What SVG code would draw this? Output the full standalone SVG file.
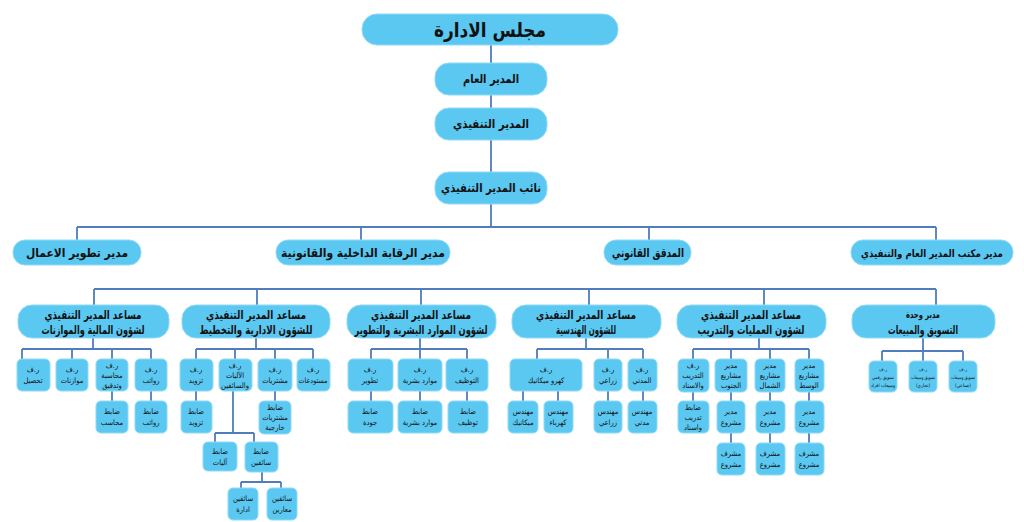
<svg xmlns="http://www.w3.org/2000/svg" width="1024" height="522" viewBox="0 0 1024 522">
<style>
.b{fill:#5bc8f2;stroke:#8fdaf7;stroke-width:1}
.c{fill:none;stroke:#4f7dbd;stroke-width:1.8}
text{font-family:"DejaVu Sans Condensed","DejaVu Sans",sans-serif;fill:#111;text-anchor:middle;font-weight:bold}
.t0{font-size:20px}
.t1{font-size:12px}
.t2{font-size:12px}
.t3{font-size:10px}
.s{font-size:7.5px;font-weight:normal}
.xs{font-size:4.8px;font-weight:normal}
</style>
<rect width="1024" height="522" fill="#fff"/>
<g id="connectors" class="c">
<path d="M491 45V63M491 95V108M491 140V172M491 204V227"/>
<path d="M77 227H936M77 227V240M361 227V240M649 227V240M936 227V240"/>
<path d="M94 289H936M94 289V305M257 289V305M421 289V305M589 289V305M764 289V305M936 289V305"/>
<path d="M93 338V349M22 349H151M22 349V359M72 349V359M112 349V359M151 349V359M112 391V401M151 391V401"/>
<path d="M256 338V349M196 349H313M196 349V359M235 349V359M275 349V359M313 349V359M196 391V401M275 391V401"/>
<path d="M233 391V433M215 433H254M215 433V442M254 433V442M262 472V482M241 482H281M241 482V488M281 482V488"/>
<path d="M420 338V349M371 349H467M371 349V359M420 349V359M467 349V359M371 391V401M420 391V401M467 391V401"/>
<path d="M586 338V349M537 349H643M537 349V359M608 349V359M643 349V359M523 391V401M558 391V401M608 391V401M643 391V401"/>
<path d="M759 338V349M693 349H809M693 349V359M731 349V359M770 349V359M809 349V359M693 392V401M731 392V401M770 392V401M809 392V401M731 433V443M770 433V443M809 433V443"/>
<path d="M923 338V351M882 351H963M882 351V361M923 351V361M963 351V361"/>
</g>
<g id="board"><rect class="b" x="362" y="14" width="256" height="31" rx="15"/><text class="t0" x="490" y="37" textLength="112" lengthAdjust="spacingAndGlyphs">مجلس الادارة</text></g>
<g id="gm"><rect class="b" x="435" y="63" width="112" height="32" rx="14"/><text class="t1" x="491" y="83" textLength="56" lengthAdjust="spacingAndGlyphs">المدير العام</text></g>
<g id="ceo"><rect class="b" x="435" y="108" width="112" height="32" rx="14"/><text class="t1" x="491" y="128" textLength="76" lengthAdjust="spacingAndGlyphs">المدير التنفيذي</text></g>
<g id="deputy"><rect class="b" x="435" y="172" width="112" height="32" rx="14"/><text class="t1" x="491" y="192" textLength="100" lengthAdjust="spacingAndGlyphs">نائب المدير التنفيذي</text></g>

<g id="bizdev"><rect class="b" x="13" y="240" width="128" height="25" rx="12"/><text class="t1" x="77" y="257" font-weight="normal" textLength="102" lengthAdjust="spacingAndGlyphs">مدير تطوير الاعمال</text></g>
<g id="control"><rect class="b" x="276" y="240" width="174" height="25" rx="12"/><text class="t1" x="363" y="257" textLength="164" lengthAdjust="spacingAndGlyphs">مدير الرقابة الداخلية والقانونية</text></g>
<g id="auditor"><rect class="b" x="604" y="240" width="87" height="25" rx="12"/><text class="t1" x="648" y="257" textLength="72" lengthAdjust="spacingAndGlyphs">المدقق القانوني</text></g>
<g id="office"><rect class="b" x="851" y="240" width="162" height="25" rx="12"/><text x="932" y="257" font-size="10.5" textLength="142" lengthAdjust="spacingAndGlyphs">مدير مكتب المدير العام والتنفيذي</text></g>

<g id="finance"><rect class="b" x="18" y="305" width="151" height="33" rx="14"/><text class="t2" x="93" y="319" textLength="97" lengthAdjust="spacingAndGlyphs">مساعد المدير التنفيذي</text><text class="t2" x="93" y="334" textLength="103" lengthAdjust="spacingAndGlyphs">لشؤون المالية والموازنات</text></g>
<g id="admin"><rect class="b" x="182" y="305" width="148" height="33" rx="14"/><text class="t2" x="256" y="319" textLength="100" lengthAdjust="spacingAndGlyphs">مساعد المدير التنفيذي</text><text class="t2" x="256" y="334" textLength="113" lengthAdjust="spacingAndGlyphs">للشؤون الادارية والتخطيط</text></g>
<g id="hr"><rect class="b" x="347" y="305" width="149" height="33" rx="14"/><text class="t2" x="421" y="319" textLength="100" lengthAdjust="spacingAndGlyphs">مساعد المدير التنفيذي</text><text class="t2" x="421" y="334" textLength="133" lengthAdjust="spacingAndGlyphs">لشؤون الموارد البشرية والتطوير</text></g>
<g id="eng"><rect class="b" x="512" y="305" width="149" height="33" rx="14"/><text class="t2" x="586" y="319" textLength="100" lengthAdjust="spacingAndGlyphs">مساعد المدير التنفيذي</text><text class="t2" x="586" y="334" textLength="60" lengthAdjust="spacingAndGlyphs">للشؤون الهندسية</text></g>
<g id="ops"><rect class="b" x="677" y="305" width="149" height="33" rx="14"/><text class="t2" x="751" y="319" textLength="100" lengthAdjust="spacingAndGlyphs">مساعد المدير التنفيذي</text><text class="t2" x="751" y="334" textLength="107" lengthAdjust="spacingAndGlyphs">لشؤون العمليات والتدريب</text></g>
<g id="marketing"><rect class="b" x="852" y="305" width="143" height="33" rx="14"/><text class="t3" x="923" y="318" textLength="34" lengthAdjust="spacingAndGlyphs">مدير وحدة</text><text class="t2" x="923" y="334" textLength="70" lengthAdjust="spacingAndGlyphs">التسويق والمبيعات</text></g>

<!-- finance subs -->
<g id="f1"><rect class="b" x="17" y="359" width="33" height="32" rx="5"/><text class="s" x="33" y="372">ر.ف</text><text class="s" x="33" y="383">تحصيل</text></g>
<g id="f2"><rect class="b" x="56" y="359" width="32" height="32" rx="5"/><text class="s" x="72" y="372">ر.ف</text><text class="s" x="72" y="383">موازنات</text></g>
<g id="f3"><rect class="b" x="96" y="359" width="32" height="32" rx="5"/><text class="s" x="112" y="368">ر.ف</text><text class="s" x="112" y="378">محاسبة</text><text class="s" x="112" y="388">وتدقيق</text></g>
<g id="f4"><rect class="b" x="135" y="359" width="32" height="32" rx="5"/><text class="s" x="151" y="372">ر.ف</text><text class="s" x="151" y="383">رواتب</text></g>
<g id="f5"><rect class="b" x="96" y="401" width="32" height="32" rx="5"/><text class="s" x="112" y="414">ضابط</text><text class="s" x="112" y="425">محاسب</text></g>
<g id="f6"><rect class="b" x="135" y="401" width="32" height="32" rx="5"/><text class="s" x="151" y="414">ضابط</text><text class="s" x="151" y="425">رواتب</text></g>

<!-- admin subs -->
<g id="a1"><rect class="b" x="180" y="359" width="33" height="32" rx="5"/><text class="s" x="196" y="372">ر.ف</text><text class="s" x="196" y="383">تزويد</text></g>
<g id="a2"><rect class="b" x="219" y="359" width="33" height="32" rx="5"/><text class="s" x="235" y="368">ر.ف</text><text class="s" x="235" y="378">الآليات</text><text class="s" x="235" y="388" textLength="28" lengthAdjust="spacingAndGlyphs">والسائقين</text></g>
<g id="a3"><rect class="b" x="258" y="359" width="34" height="32" rx="5"/><text class="s" x="275" y="372">ر.ف</text><text class="s" x="275" y="383">مشتريات</text></g>
<g id="a4"><rect class="b" x="297" y="359" width="33" height="32" rx="5"/><text class="s" x="313" y="372">ر.ف</text><text class="s" x="313" y="383" textLength="29" lengthAdjust="spacingAndGlyphs">مستودعات</text></g>
<g id="a5"><rect class="b" x="181" y="401" width="31" height="32" rx="5"/><text class="s" x="196" y="414">ضابط</text><text class="s" x="196" y="425">تزويد</text></g>
<g id="a6"><rect class="b" x="259" y="401" width="32" height="33" rx="5"/><text class="s" x="275" y="410">ضابط</text><text class="s" x="275" y="420">مشتريات</text><text class="s" x="275" y="430">خارجية</text></g>
<g id="a7"><rect class="b" x="203" y="442" width="34" height="29" rx="5"/><text class="s" x="220" y="454">ضابط</text><text class="s" x="220" y="465">آليات</text></g>
<g id="a8"><rect class="b" x="245" y="442" width="33" height="30" rx="5"/><text class="s" x="261" y="454">ضابط</text><text class="s" x="261" y="465">سائقين</text></g>
<g id="a9"><rect class="b" x="228" y="488" width="30" height="32" rx="5"/><text class="s" x="243" y="501">سائقين</text><text class="s" x="243" y="512">ادارة</text></g>
<g id="a10"><rect class="b" x="267" y="488" width="30" height="32" rx="5"/><text class="s" x="282" y="501">سائقين</text><text class="s" x="282" y="512">معارين</text></g>

<!-- hr subs -->
<g id="h1"><rect class="b" x="348" y="359" width="45" height="32" rx="5"/><text class="s" x="370" y="372">ر.ف</text><text class="s" x="370" y="383">تطوير</text></g>
<g id="h2"><rect class="b" x="398" y="359" width="44" height="32" rx="5"/><text class="s" x="420" y="372">ر.ف</text><text class="s" x="420" y="383">موارد بشرية</text></g>
<g id="h3"><rect class="b" x="446" y="359" width="42" height="32" rx="5"/><text class="s" x="467" y="372">ر.ف</text><text class="s" x="467" y="383">التوظيف</text></g>
<g id="h4"><rect class="b" x="348" y="401" width="45" height="32" rx="5"/><text class="s" x="370" y="414">ضابط</text><text class="s" x="370" y="425">جودة</text></g>
<g id="h5"><rect class="b" x="398" y="401" width="44" height="32" rx="5"/><text class="s" x="420" y="414">ضابط</text><text class="s" x="420" y="425">موارد بشرية</text></g>
<g id="h6"><rect class="b" x="448" y="401" width="40" height="32" rx="5"/><text class="s" x="468" y="414">ضابط</text><text class="s" x="468" y="425">توظيف</text></g>

<!-- eng subs -->
<g id="e1"><rect class="b" x="510" y="359" width="72" height="32" rx="5"/><text class="s" x="546" y="372">ر.ف</text><text class="s" x="546" y="383">كهرو ميكانيك</text></g>
<g id="e2"><rect class="b" x="594" y="359" width="28" height="32" rx="5"/><text class="s" x="608" y="372">ر.ف</text><text class="s" x="608" y="383">زراعي</text></g>
<g id="e3"><rect class="b" x="628" y="359" width="29" height="32" rx="5"/><text class="s" x="642" y="372">ر.ف</text><text class="s" x="642" y="383">المدني</text></g>
<g id="e4"><rect class="b" x="508" y="401" width="30" height="32" rx="5"/><text class="s" x="523" y="414">مهندس</text><text class="s" x="523" y="425">ميكانيك</text></g>
<g id="e5"><rect class="b" x="544" y="401" width="29" height="32" rx="5"/><text class="s" x="558" y="414">مهندس</text><text class="s" x="558" y="425">كهرباء</text></g>
<g id="e6"><rect class="b" x="594" y="401" width="28" height="32" rx="5"/><text class="s" x="608" y="414">مهندس</text><text class="s" x="608" y="425">زراعي</text></g>
<g id="e7"><rect class="b" x="628" y="401" width="29" height="32" rx="5"/><text class="s" x="642" y="414">مهندس</text><text class="s" x="642" y="425">مدني</text></g>

<!-- ops subs -->
<g id="o1"><rect class="b" x="678" y="359" width="31" height="33" rx="5"/><text class="s" x="693" y="368">ر.ف</text><text class="s" x="693" y="378">التدريب</text><text class="s" x="693" y="388">والاسناد</text></g>
<g id="o2"><rect class="b" x="715" y="359" width="32" height="33" rx="5"/><text class="s" x="731" y="368">مدير</text><text class="s" x="731" y="378">مشاريع</text><text class="s" x="731" y="388">الجنوب</text></g>
<g id="o3"><rect class="b" x="755" y="359" width="30" height="33" rx="5"/><text class="s" x="770" y="368">مدير</text><text class="s" x="770" y="378">مشاريع</text><text class="s" x="770" y="388">الشمال</text></g>
<g id="o4"><rect class="b" x="795" y="359" width="29" height="33" rx="5"/><text class="s" x="809" y="368">مدير</text><text class="s" x="809" y="378">مشاريع</text><text class="s" x="809" y="388">الوسط</text></g>
<g id="o5"><rect class="b" x="678" y="401" width="31" height="32" rx="5"/><text class="s" x="693" y="410">ضابط</text><text class="s" x="693" y="420">تدريب</text><text class="s" x="693" y="430">واسناد</text></g>
<g id="o6"><rect class="b" x="717" y="401" width="28" height="32" rx="5"/><text class="s" x="731" y="414">مدير</text><text class="s" x="731" y="425">مشروع</text></g>
<g id="o7"><rect class="b" x="756" y="401" width="29" height="32" rx="5"/><text class="s" x="770" y="414">مدير</text><text class="s" x="770" y="425">مشروع</text></g>
<g id="o8"><rect class="b" x="795" y="401" width="29" height="32" rx="5"/><text class="s" x="809" y="414">مدير</text><text class="s" x="809" y="425">مشروع</text></g>
<g id="o9"><rect class="b" x="717" y="443" width="28" height="32" rx="5"/><text class="s" x="731" y="456">مشرف</text><text class="s" x="731" y="467">مشروع</text></g>
<g id="o10"><rect class="b" x="756" y="443" width="29" height="32" rx="5"/><text class="s" x="770" y="456">مشرف</text><text class="s" x="770" y="467">مشروع</text></g>
<g id="o11"><rect class="b" x="795" y="443" width="29" height="32" rx="5"/><text class="s" x="809" y="456">مشرف</text><text class="s" x="809" y="467">مشروع</text></g>

<!-- marketing subs -->
<g id="m1"><rect class="b" x="869" y="361" width="28" height="31" rx="5"/><text class="xs" x="883" y="371">ر.ف</text><text class="xs" x="883" y="379" textLength="22" lengthAdjust="spacingAndGlyphs">تسويق رقمي</text><text class="xs" x="883" y="387" textLength="24" lengthAdjust="spacingAndGlyphs">ومبيعات افراد</text></g>
<g id="m2"><rect class="b" x="909" y="361" width="28" height="31" rx="5"/><text class="xs" x="923" y="371">ر.ف</text><text class="xs" x="923" y="379" textLength="24" lengthAdjust="spacingAndGlyphs">تسويق ومبيعات</text><text class="xs" x="923" y="387">(تجاري)</text></g>
<g id="m3"><rect class="b" x="949" y="361" width="28" height="31" rx="5"/><text class="xs" x="963" y="371">ر.ف</text><text class="xs" x="963" y="379" textLength="24" lengthAdjust="spacingAndGlyphs">تسويق ومبيعات</text><text class="xs" x="963" y="387">(صناعي)</text></g>
</svg>
